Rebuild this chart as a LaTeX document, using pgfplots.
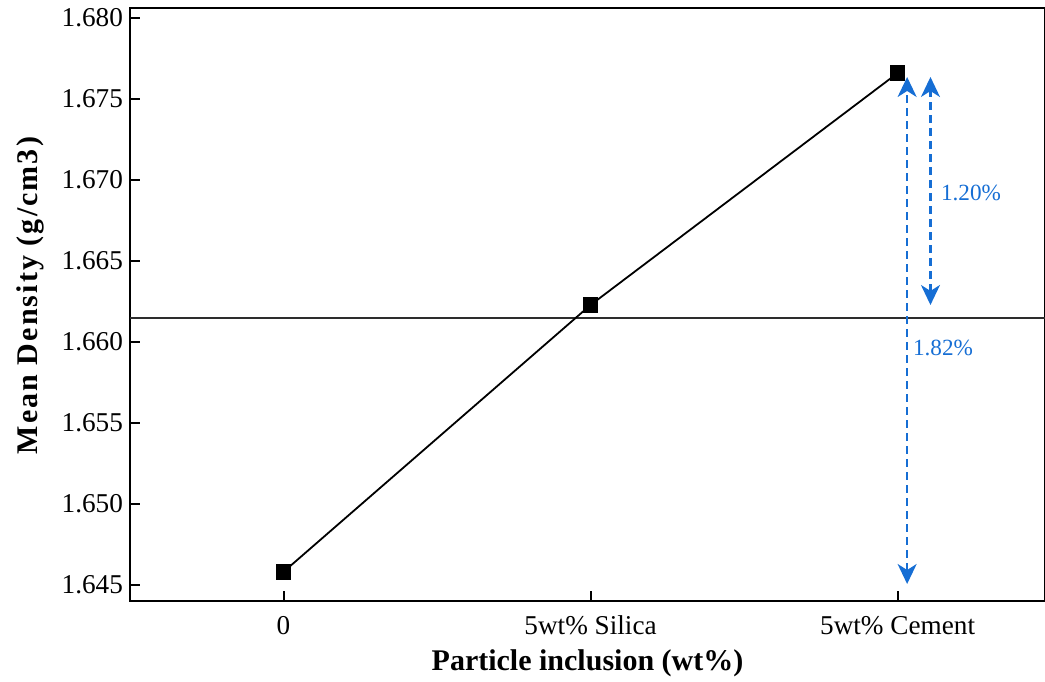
\documentclass[border=0pt]{standalone}
\usepackage{pgfplots}
\pgfplotsset{compat=1.18}
\usepackage{fontspec}
\setmainfont{Liberation Serif}
\usetikzlibrary{arrows.meta}
\definecolor{annblue}{RGB}{22,110,212}
\definecolor{refline}{RGB}{45,45,45}
\pgfdeclareplotmark{rsquare}{%
  \pgfsetcornersarced{\pgfqpoint{2pt}{2pt}}%
  \pgfpathmoveto{\pgfqpoint{-\pgfplotmarksize}{-\pgfplotmarksize}}%
  \pgfpathlineto{\pgfqpoint{\pgfplotmarksize}{-\pgfplotmarksize}}%
  \pgfpathlineto{\pgfqpoint{\pgfplotmarksize}{\pgfplotmarksize}}%
  \pgfpathlineto{\pgfqpoint{-\pgfplotmarksize}{\pgfplotmarksize}}%
  \pgfpathclose
  \pgfusepathqfillstroke}
\tikzset{
  annhead/.tip={Stealth[length=10pt,width=9.5pt,inset=3pt]},
  ann/.style={annblue, line width=1.1pt, dash pattern=on 4pt off 2.5pt, annhead-annhead}}
\begin{document}
\begin{tikzpicture}
\begin{axis}[
  scale only axis,
  width=457.5pt, height=296.5pt,
  xmin=-0.5, xmax=2.48,
  ymin=1.6440, ymax=1.68062,
  xtick={0,1,2},
  xticklabels={0,5wt\% Silica,5wt\% Cement},
  ytick={1.645,1.650,1.655,1.660,1.665,1.670,1.675,1.680},
  scaled y ticks=false,
  yticklabel style={/pgf/number format/.cd,fixed,fixed zerofill,precision=3,assume math mode=true},
  xticklabel style={yshift=-4pt},
  tick align=inside,
  xtick pos=bottom, ytick pos=left,
  major tick length=5pt,
  axis line style={line width=1pt},
  every tick/.style={black, line width=1pt},
  tick label style={font=\fontsize{13.6}{16}\selectfont},
  label style={font=\fontsize{15}{18}\selectfont\bfseries},
  xlabel={Particle inclusion (wt\%)},
  ylabel={\addfontfeatures{LetterSpace=7}Mean Density (g/cm3)},
  xlabel style={at={(rel axis cs:0.5,0)}, anchor=center, yshift=-31pt},
  ylabel style={at={(rel axis cs:0,0.515)}, anchor=center, yshift=50pt},
  clip=false,
]
\addplot[refline, line width=1pt] coordinates {(-0.5,1.6615) (2.48,1.6615)};
\addplot[black, line width=0.9pt, mark=rsquare, mark size=3.4pt, mark options={solid}]
  coordinates {(0,1.64580) (1,1.66228) (2,1.67660)};
\draw[ann] (axis cs:2.031,1.64505) -- (axis cs:2.031,1.67636);
\draw[ann] (axis cs:2.107,1.66228) -- (axis cs:2.107,1.67636);
\node[annblue, anchor=west, inner sep=0pt, font=\fontsize{11.6}{14}\selectfont] at (axis cs:2.140,1.66920) {1.20\%};
\node[annblue, anchor=west, inner sep=0pt, font=\fontsize{11.6}{14}\selectfont] at (axis cs:2.049,1.65963) {1.82\%};
\end{axis}
\pgfresetboundingbox
\path[use as bounding box] (-65pt,-40pt) rectangle (457.5pt,300.5pt);
\end{tikzpicture}
\end{document}
